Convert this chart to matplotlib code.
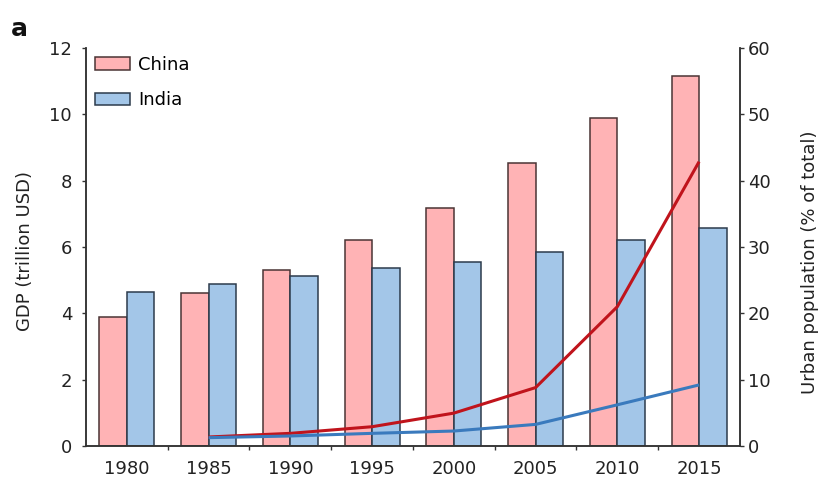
import matplotlib.pyplot as plt
import numpy as np

plt.rcParams['font.family'] = ['DejaVu Sans']

# Data
years = ["1980", "1985", "1990", "1995", "2000", "2005", "2010", "2015"]
china_urban = [19.5, 23.0, 26.5, 31.1, 35.9, 42.6, 49.4, 55.8]
india_urban = [23.2, 24.4, 25.6, 26.8, 27.7, 29.3, 31.0, 32.9]
line_years = ["1985", "1990", "1995", "2000", "2005", "2010", "2015"]
china_gdp = [0.27, 0.38, 0.58, 0.99, 1.76, 4.2, 8.57]
india_gdp = [0.25, 0.30, 0.38, 0.45, 0.65, 1.24, 1.84]

x = np.arange(len(years))
xl = np.array([years.index(y) for y in line_years])
w = 0.336
fs = 13

fig = plt.figure(figsize=(8.19, 4.79), dpi=100)
ax1 = fig.add_axes([0.105, 0.069, 0.7985, 0.831])
ax2 = ax1.twinx()
ax1.set_zorder(ax2.get_zorder() + 1)
ax1.patch.set_visible(False)

# Bars: urban population on the right axis
b1 = ax2.bar(x - w / 2, china_urban, w, color='#FFB3B5', edgecolor='#4a3434',
             linewidth=1.1, label='China')
b2 = ax2.bar(x + w / 2, india_urban, w, color='#A3C6E8', edgecolor='#2c3b4c',
             linewidth=1.1, label='India')

# Lines: GDP on the left axis
ax1.plot(xl, china_gdp, color='#C0141C', lw=2.2, solid_capstyle='butt')
ax1.plot(xl, india_gdp, color='#3A7ABD', lw=2.2, solid_capstyle='butt')

ax1.set_xlim(-0.5, 7.5)
ax1.set_ylim(0, 12)
ax2.set_ylim(0, 60)
ax1.set_yticks(range(0, 13, 2))
ax2.set_yticks(range(0, 61, 10))

# x ticks at group boundaries, labels at centres
ax1.set_xticks(np.arange(0.5, 7, 1))
ax1.set_xticklabels([])
ax1.set_xticks(x, minor=True)
ax1.set_xticklabels(years, minor=True)
ax1.tick_params(axis='x', which='major', direction='out', length=3, width=1, color='#333333')
ax1.tick_params(axis='x', which='minor', length=0, pad=10, labelsize=fs, labelcolor='#222222')
ax1.tick_params(axis='y', direction='out', length=3, width=1, color='#333333',
                pad=7, labelsize=fs, labelcolor='#222222')
ax2.tick_params(axis='y', direction='out', length=3, width=1, color='#333333',
                pad=2.5, labelsize=fs, labelcolor='#222222')

for a in (ax1, ax2):
    a.spines['top'].set_visible(False)
    for s in ('left', 'right', 'bottom'):
        a.spines[s].set_color('#333333')
        a.spines[s].set_linewidth(1.1)

ax1.set_ylabel('GDP (trillion USD)', fontsize=fs, color='#222222')
ax1.yaxis.set_label_coords(-0.0795, 0.49)
ax2.set_ylabel('Urban population (% of total)', fontsize=fs, color='#222222')
ax2.yaxis.set_label_coords(1.093, 0.462)

ax1.legend(handles=[b1, b2], loc='upper left', bbox_to_anchor=(95 / 819, 1 - 56 / 479),
           bbox_transform=fig.transFigure, frameon=False, fontsize=fs,
           borderpad=0, borderaxespad=0, handlelength=1.95, handleheight=0.7,
           handletextpad=0.45, labelspacing=0.95)

fig.text(11 / 819, 1 - 36 / 479, 'a', fontsize=18, fontweight='bold', color='#111111',
         va='baseline')

fig.savefig('out.png', dpi=100)
